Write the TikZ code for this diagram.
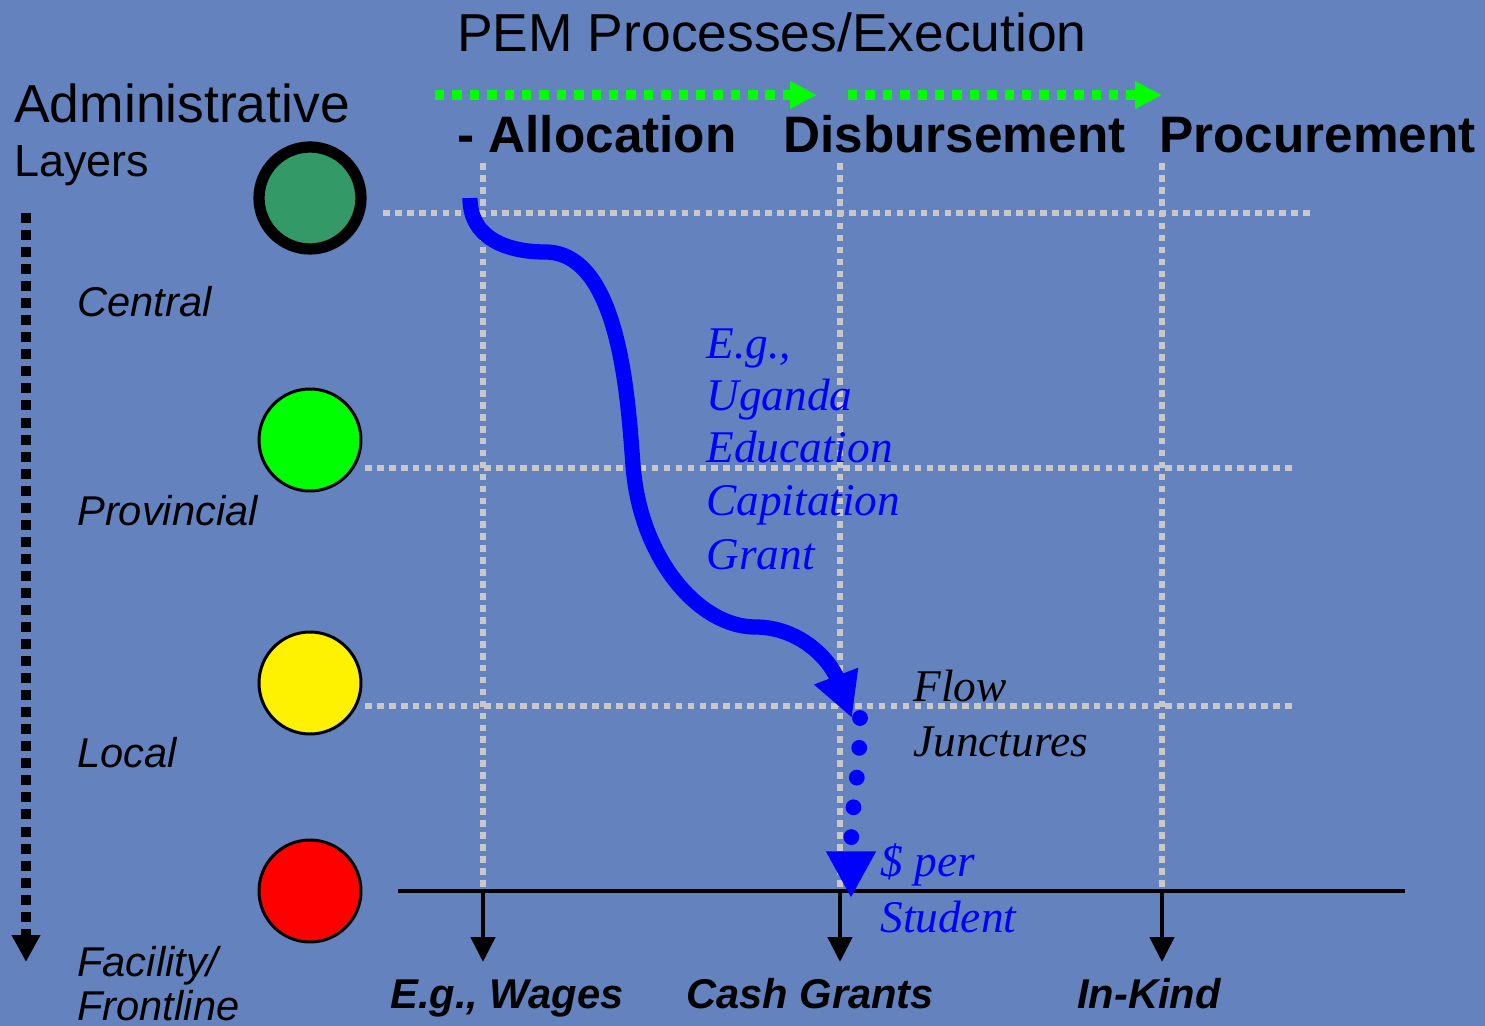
\documentclass[tikz,border=0pt]{standalone}
\usepackage{fontspec}
\setmainfont{Liberation Serif}
\setsansfont{Liberation Sans}
\usetikzlibrary{arrows.meta}

\definecolor{slidebg}{RGB}{99,130,190}
\definecolor{gridgray}{RGB}{200,200,200}
\definecolor{procgreen}{RGB}{0,255,0}
\definecolor{centralgreen}{RGB}{51,153,102}
\definecolor{flowblue}{RGB}{0,0,255}

\newcommand{\titlefont}{\sffamily\fontsize{30.4}{36}\selectfont}
\newcommand{\headfont}{\sffamily\bfseries\fontsize{29.2}{35}\selectfont}
\newcommand{\layerfont}{\sffamily\itshape\fontsize{23.7}{28}\selectfont}
\newcommand{\kindfont}{\sffamily\bfseries\itshape\fontsize{23.7}{28}\selectfont}
\newcommand{\notefont}{\rmfamily\itshape\fontsize{25.8}{30}\selectfont}

\begin{document}
\begin{tikzpicture}[x=0.02cm, y=-0.02cm,
    lbl/.style={anchor=base west, inner sep=0pt},
    layer/.style={circle, draw=black, line width=1.7pt, minimum size=2.04cm, inner sep=0pt},
    gridline/.style={gridgray, line width=3.8pt, dash pattern=on 3.8pt off 3pt},
    stage/.style={procgreen, line width=5.3pt, dash pattern=on 5.4pt off 4.5pt,
        -{Triangle[length=15.3pt, width=14.7pt]}},
    outlet/.style={black, line width=2.8pt, -{Triangle[length=14.2pt, width=13.6pt]}}]
    \useasboundingbox (0,0) rectangle (1485,1026);
    \fill[slidebg] (0,0) rectangle (1485,1026);

    % grid of layers and processes
    \draw[gridline] (383,213) -- (1310,213);
    \draw[gridline] (365,468) -- (1295,468);
    \draw[gridline] (365,706) -- (1295,706);
    \foreach \x/\n in {483/alloc, 840/disb, 1162/proc} {
        \coordinate (\n top) at (\x,163);
        \coordinate (\n base) at (\x,891);
        \coordinate (\n tip) at (\x,962);
        \draw[gridline] (\n top) -- (\n base);
    }
    \draw[black, line width=1.9pt] (398,891) -- (1405,891);
    \foreach \n in {alloc, disb, proc}
        \draw[outlet] (\n base) -- (\n tip);

    % headings
    \node[lbl] (pem) at (457,52) {\titlefont PEM Processes/Execution};
    \node[lbl] (admin) at (14,123) {\titlefont Administrative};
    \node[lbl] (layers) at (14,177) {\sffamily\fontsize{25.6}{30}\selectfont Layers};
    \node[lbl] (allocation) at (457,153) {\headfont - Allocation};
    \node[lbl] (disbursement) at (783,153) {\headfont Disbursement};
    \node[lbl] (procurement) at (1159,153) {\headfont Procurement};

    \coordinate (stageA) at (435,95);
    \coordinate (stageB) at (817,95);
    \coordinate (stageC) at (848,95);
    \coordinate (stageD) at (1162,95);
    \draw[stage] (stageA) -- (stageB);
    \draw[stage] (stageC) -- (stageD);

    % administrative layers
    \coordinate (downtop) at (26,213);
    \coordinate (downtip) at (26,962);
    \draw[black, line width=5.7pt, dash pattern=on 5.7pt off 4pt,
        -{Triangle[length=15.3pt, width=15.3pt]}] (downtop) -- (downtip);

    \node[layer, fill=centralgreen, line width=6.4pt] (central) at (310,198) {};
    \node[layer, fill=procgreen] (provincial) at (310,440) {};
    \node[layer, fill=yellow] (local) at (310,683) {};
    \node[layer, fill=red] (facility) at (310,891) {};

    \node[lbl] (centralL) at (77,317) {\layerfont Central};
    \node[lbl] (provincialL) at (77,526) {\layerfont Provincial};
    \node[lbl] (localL) at (77,768) {\layerfont Local};
    \node[lbl] (facilityL) at (77,976) {\layerfont Facility/};
    \node[lbl] (frontlineL) at (77,1020) {\layerfont Frontline};

    % flow of the grant
    \coordinate (flowstart) at (470,198);
    \coordinate (juncture) at (852,718);
    \draw[flowblue, line width=8.7pt, -{Triangle[length=25.5pt, width=25pt]}]
        (flowstart) .. controls (470,240) and (510,252) .. (545,252)
        .. controls (620,252) and (628,400) .. (633,465)
        .. controls (640,560) and (700,627) .. (755,627)
        .. controls (800,627) and (830,660) .. (juncture);

    \coordinate (dotstart) at (860,718);
    \coordinate (studentend) at (851,898);
    \draw[flowblue, line width=9pt, line cap=round, dash pattern=on 0pt off 17pt,
        -{Triangle[length=26.6pt, width=26.6pt]}]
        (dotstart) .. controls (860,780) and (851,800) .. (studentend);

    \node[lbl, flowblue] (eg) at (706,359) {\notefont E.g.,};
    \node[lbl, flowblue] (uganda) at (706,411) {\notefont Uganda};
    \node[lbl, flowblue] (education) at (706,463) {\notefont Education};
    \node[lbl, flowblue] (capitation) at (706,516) {\notefont Capitation};
    \node[lbl, flowblue] (grant) at (706,570) {\notefont Grant};

    \node[lbl] (flow) at (913,702) {\notefont Flow};
    \node[lbl] (junctures) at (913,757) {\notefont Junctures};
    \node[lbl, flowblue] (per) at (880,877) {\notefont \$ per};
    \node[lbl, flowblue] (student) at (880,932) {\notefont Student};

    % outlets
    \node[lbl] (wages) at (390,1009) {\kindfont E.g., Wages};
    \node[lbl] (cash) at (686,1009) {\kindfont Cash Grants};
    \node[lbl] (inkind) at (1077,1009) {\kindfont In-Kind};
\end{tikzpicture}
\end{document}
